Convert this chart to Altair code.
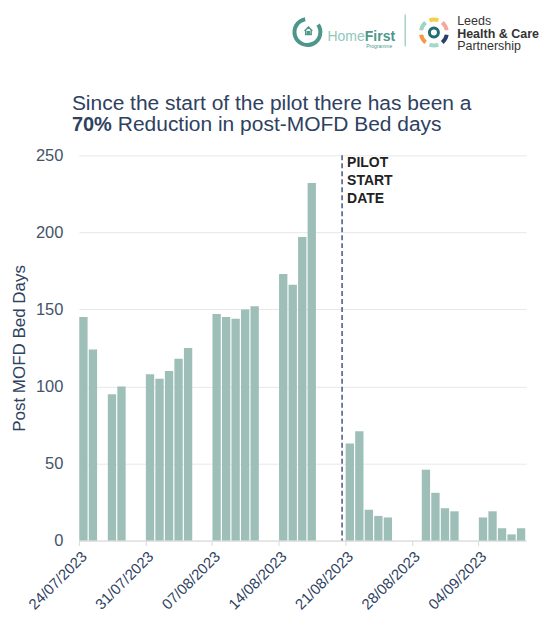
import math
import altair as alt
import pandas as pd

# ---------------- data ----------------
dates = [
    "24/07/2023", "25/07/2023", "27/07/2023", "28/07/2023",
    "31/07/2023", "01/08/2023", "02/08/2023", "03/08/2023", "04/08/2023",
    "07/08/2023", "08/08/2023", "09/08/2023", "10/08/2023", "11/08/2023",
    "14/08/2023", "15/08/2023", "16/08/2023", "17/08/2023",
    "21/08/2023", "22/08/2023", "23/08/2023", "24/08/2023", "25/08/2023",
    "29/08/2023", "30/08/2023", "31/08/2023", "01/09/2023",
    "04/09/2023", "05/09/2023", "06/09/2023", "07/09/2023", "08/09/2023",
]
values = [
    145, 124, 95, 100,
    108, 105, 110, 118, 125,
    147, 145, 144, 150, 152,
    173, 166, 197, 232,
    63, 71, 20, 16, 15,
    46, 31, 21, 19,
    15, 19, 8, 4, 8,
]
tick_dates = ["24/07/2023", "31/07/2023", "07/08/2023", "14/08/2023",
              "21/08/2023", "28/08/2023", "04/09/2023"]
domain_dates = ["24/07/2023", "09/09/2023"]
y_ticks = [0, 50, 100, 150, 200, 250]
pilot_date = ["2023-08-20T16:00:00"]
pilot_label = ["PILOT\nSTART\nDATE"]

title_line1 = ["Since the start of the pilot there has been a"]
title_bold = ["70%"]
title_rest = ["Reduction in post-MOFD Bed days"]
y_title = "Post MOFD Bed Days"

logo_home = ["Home"]
logo_first = ["First"]
logo_programme = ["Programme"]
logo_leeds = ["Leeds"]
logo_hc = ["Health & Care"]
logo_partnership = ["Partnership"]

FONT = "Liberation Sans"
NAVY = "#2e4161"
BAR = "#9ebfb7"


def dt(s):
    d, m, y = s.split("/")
    return alt.DateTime(year=int(y), month=int(m), date=int(d))


df = pd.DataFrame({"date": pd.to_datetime(dates, format="%d/%m/%Y"), "value": values})
df["start"] = df["date"] + pd.Timedelta(hours=1)
df["end"] = df["date"] + pd.Timedelta(hours=22)

xscale = alt.Scale(domain=[dt(d) for d in domain_dates])

bars = alt.Chart(df).mark_bar(color=BAR).encode(
    x=alt.X(
        "start:T",
        scale=xscale,
        title=None,
        axis=alt.Axis(
            values=[dt(d) for d in tick_dates],
            format="%d/%m/%Y",
            labelAngle=315,
            labelAlign="right",
            labelBaseline="top",
            labelFont=FONT,
            labelFontSize=15,
            labelColor=NAVY,
            labelPadding=3,
            grid=False,
            domainColor="#d9d9d9",
            tickColor="#d9d9d9",
            tickSize=5,
        ),
    ),
    x2="end:T",
    y=alt.Y(
        "value:Q",
        scale=alt.Scale(domain=[0, 250]),
        title=y_title,
        axis=alt.Axis(
            values=y_ticks,
            tickSize=0,
            domain=False,
            labelPadding=16,
            labelFont=FONT,
            labelFontSize=16.5,
            labelColor="#44546a",
            titleFont=FONT,
            titleFontSize=17,
            titleFontWeight="normal",
            titleColor=NAVY,
            titlePadding=7,
            gridColor="#e8e8e8",
        ),
    ),
    y2=alt.datum(0),
)

pilot_df = pd.DataFrame({"date": pd.to_datetime(pilot_date), "label": pilot_label})
rule = alt.Chart(pilot_df).mark_rule(
    color="#44567a", strokeDash=[5, 3], strokeWidth=1.5
).encode(x="date:T")

pilot_text = alt.Chart(pilot_df).mark_text(
    align="left", baseline="top", dx=5, fontWeight="bold", fontSize=14,
    font=FONT, lineBreak="\n", lineHeight=18, color="#222222",
).encode(x="date:T", y=alt.value(1), text="label:N")


def txt(lst, x, y, size, color, weight="normal", align="left"):
    return alt.Chart(pd.DataFrame({"t": lst})).mark_text(
        align=align, baseline="alphabetic", font=FONT, fontSize=size,
        fontWeight=weight, color=color,
    ).encode(x=alt.value(x), y=alt.value(y), text="t:N")


t1 = txt(title_line1, -7, -45, 21, NAVY)
t2 = txt(title_bold, -7, -24, 20, NAVY, "bold")
t3 = txt(title_rest, 39, -24, 21, NAVY)

# --- logos ---
lh = txt(logo_home, 249, -115, 14, "#93c6bd")
lf = txt(logo_first, 286.5, -115, 14, "#4d978c", "bold")
lp = txt(logo_programme, 314, -107, 5, "#4d978c", "normal", "right")
l1 = txt(logo_leeds, 379, -131, 12.5, "#333333")
l2 = txt(logo_hc, 379, -118, 12.5, "#333333", "bold")
l3 = txt(logo_partnership, 379, -105, 12.5, "#333333")

divider = alt.Chart(pd.DataFrame({"a": [0]})).mark_rule(
    color="#a8d0c8", strokeWidth=1.5
).encode(x=alt.value(327), y=alt.value(-141), y2=alt.value(-109))

home_ring = alt.Chart(pd.DataFrame({"a": [0]})).mark_arc(
    radius=15, radius2=11, theta=math.radians(55), theta2=math.radians(350),
    color="#4d968b",
).encode(x=alt.value(229), y=alt.value(-123.5))

house = alt.Chart(pd.DataFrame({"a": [0]})).mark_point(
    shape="M-1,0.1 L0,-0.9 L1,0.1 M-0.7,-0.2 L-0.7,1 L0.7,1 L0.7,-0.2 M-0.2,1 L-0.2,0.3 L0.2,0.3 L0.2,1",
    size=60, filled=False, color="#4d968b", strokeWidth=1.5, opacity=1,
).encode(x=alt.value(230), y=alt.value(-125))

arc_colors = ["#f4d04a", "#f3a9a0", "#2b3f6b", "#a6d7cc", "#f29a4a", "#9fd3c7"]
arc_centres = [0, 60, 120, 180, 240, 300]
leeds_arcs = []
for c, a in zip(arc_colors, arc_centres):
    start = a - 20 + 360
    leeds_arcs.append(
        alt.Chart(pd.DataFrame({"a": [0]})).mark_arc(
            radius=15, radius2=11, theta=math.radians(start),
            theta2=math.radians(start + 40), color=c,
        ).encode(x=alt.value(355.7), y=alt.value(-123))
    )
leeds_ring = alt.Chart(pd.DataFrame({"a": [0]})).mark_arc(
    radius=6, radius2=3, theta=0, theta2=2 * math.pi, color="#1d6e70",
).encode(x=alt.value(355.7), y=alt.value(-123))

chart = alt.layer(
    bars, rule, pilot_text, t1, t2, t3, lh, lf, lp, l1, l2, l3,
    divider, home_ring, house, leeds_ring, *leeds_arcs,
).properties(
    width=448,
    height=386,
    autosize=alt.AutoSizeParams(type="none"),
    padding={"left": 71, "top": 147, "right": 16, "bottom": 74},
    background="white",
).configure_view(stroke=None)

chart.save("out.html", embed_options={"renderer": "svg", "actions": False})
